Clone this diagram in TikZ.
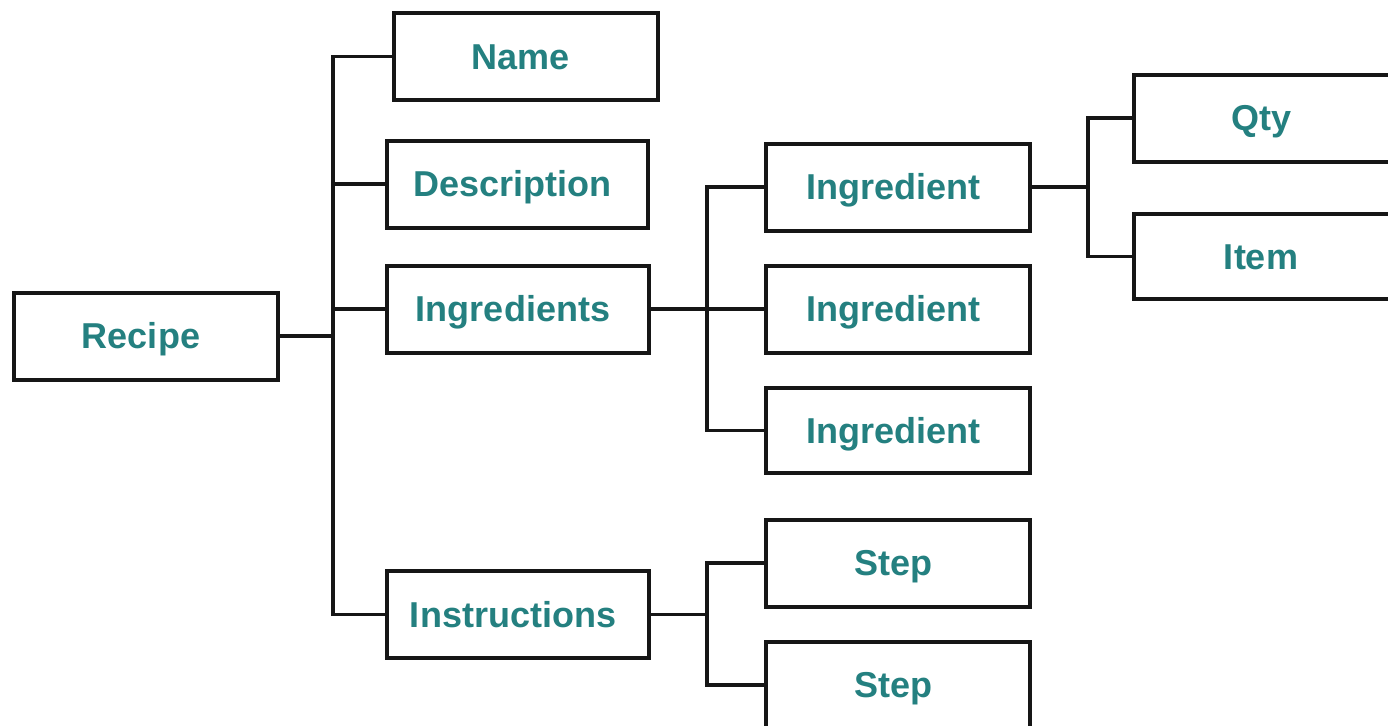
\documentclass[tikz,border=0pt]{standalone}
\usepackage{fontspec}
\setmainfont{Liberation Sans}
\definecolor{labelteal}{RGB}{36,128,128}
\definecolor{linegray}{RGB}{22,22,22}
\begin{document}
\begin{tikzpicture}[x=0.5pt,y=-0.5pt,
  box/.style={draw=linegray, line width=2pt, fill=white, rectangle,
    inner sep=0pt, minimum width=132pt, minimum height=43.5pt,
    text=labelteal, font=\fontsize{18}{20}\selectfont\bfseries,
    text height=12.9pt, text depth=0pt,
    execute at end node={\hspace*{5pt}}},
  link/.style={draw=linegray, line width=1.6pt}]
\useasboundingbox (0,0) rectangle (1388,725);
\clip (0,0) rectangle (1388,725);

% nodes
\node[box] (recipe) at (146,336) {Recipe};
\node[box] (name) at (525.5,56.5) {Name};
\node[box, minimum width=130.5pt] (desc) at (517.5,184) {Description};
\node[box, minimum width=131pt] (ingrs) at (518,309) {Ingredients};
\node[box, minimum width=131pt] (instr) at (518,614.5) {Instructions};
\node[box] (ing1) at (898,187) {Ingredient};
\node[box] (ing2) at (898,309) {Ingredient};
\node[box, minimum height=42.5pt] (ing3) at (898,430.5) {Ingredient};
\node[box] (qty) at (1266,118) {Qty};
\node[box, minimum height=42.5pt] (item) at (1266,256.5) {Item};
\node[box] (step1) at (898,563) {Step};
\node[box] (step2) at (898,685) {Step};

% junction points of the trees
\coordinate (jr) at (333,336);
\coordinate (ji) at (707,309);
\coordinate (js) at (707,614.5);
\coordinate (jq) at (1088,187);

% Recipe children
\draw[link] (recipe.east) -- (jr);
\draw[link] (name.west) -| (jr) |- (instr.west);
\draw[link] (desc.west) -- (desc.west -| jr);
\draw[link] (ingrs.west) -- (ingrs.west -| jr);

% Ingredients children
\draw[link] (ingrs.east) -- (ji);
\draw[link] (ing1.west) -| (ji) |- (ing3.west);
\draw[link] (ing2.west) -- (ji);

% Instructions children
\draw[link] (instr.east) -- (js);
\draw[link] (step1.west) -| (js) |- (step2.west);

% Ingredient children
\draw[link] (ing1.east) -- (jq);
\draw[link] (qty.west) -| (jq) |- (item.west);
\end{tikzpicture}
\end{document}
